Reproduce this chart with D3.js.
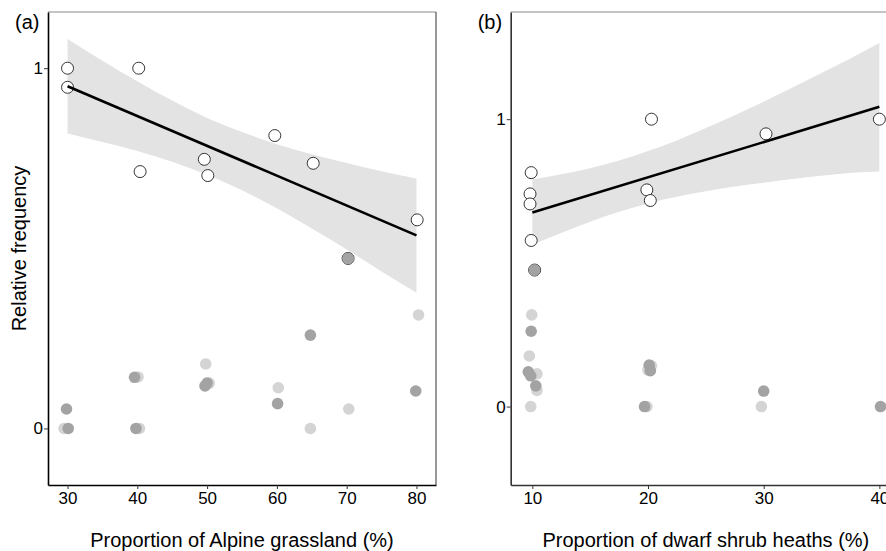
<!DOCTYPE html>
<html lang="en">
<head>
  <meta charset="UTF-8">
  <title>Relative frequency</title>
  <style>
    body { margin: 0; background: #fff; }
    svg { display: block; font-family: "Liberation Sans", Arial, sans-serif; }
  </style>
</head>
<body>
  <script src="https://d3js.org/d3.v7.min.js"></script>
  <script>
    // panel (a): Alpine grassland
    const aTicksX = [30, 40, 50, 60, 70, 80];
    const aOpenX = [30, 30, 40.2, 40.4, 49.6, 50.1, 59.7, 65.2, 70.2, 80.1];
    const aOpenY = [1.0, 0.947, 1.0, 0.713, 0.747, 0.702, 0.813, 0.736, 0.472, 0.579];
    const aLightX = [29.5, 40.1, 40.3, 49.8, 50.3, 60.2, 64.8, 70.3, 80.3];
    const aLightY = [0, 0.143, 0, 0.179, 0.126, 0.113, 0, 0.054, 0.315];
    const aDarkX = [29.85, 30.1, 39.6, 39.8, 49.7, 50.0, 60.1, 64.8, 70.2, 79.9];
    const aDarkY = [0.054, 0, 0.142, 0, 0.118, 0.126, 0.069, 0.259, 0.472, 0.104];
    const aFitX = [30, 80];
    const aFitY = [0.950, 0.536];
    const aBandX = [30, 35, 40, 45, 50, 55, 60, 65, 70, 75, 80];
    const aBandHi = [1.081, 1.021, 0.964, 0.910, 0.862, 0.823, 0.789, 0.761, 0.737, 0.714, 0.694];
    const aBandLo = [0.819, 0.795, 0.770, 0.740, 0.704, 0.661, 0.611, 0.555, 0.497, 0.436, 0.377];

    // panel (b): dwarf shrub heaths
    const bTicksX = [10, 20, 30, 40];
    const bOpenX = [9.9, 9.8, 9.8, 9.9, 10.2, 20.3, 19.9, 20.2, 30.2, 40.0];
    const bOpenY = [0.814, 0.740, 0.705, 0.578, 0.475, 1.0, 0.754, 0.717, 0.949, 1.0];
    const bLightX = [9.95, 9.74, 10.4, 10.4, 9.86, 20.3, 20.0, 19.9, 29.8];
    const bLightY = [0.319, 0.176, 0.114, 0.056, 0, 0.142, 0.127, 0, 0];
    const bDarkX = [10.2, 9.9, 9.65, 9.86, 10.3, 20.1, 20.2, 19.7, 30.0, 40.1];
    const bDarkY = [0.475, 0.262, 0.121, 0.107, 0.072, 0.144, 0.125, 0, 0.054, 0];
    const bFitX = [10, 40];
    const bFitY = [0.675, 1.043];
    const bBandX = [10, 12.5, 15, 17.5, 20, 22.5, 25, 27.5, 30, 32.5, 35, 37.5, 40];
    const bBandHi = [0.790, 0.808, 0.829, 0.856, 0.889, 0.926, 0.969, 1.014, 1.061, 1.110, 1.161, 1.211, 1.265];
    const bBandLo = [0.563, 0.604, 0.643, 0.678, 0.707, 0.730, 0.749, 0.766, 0.779, 0.792, 0.803, 0.813, 0.818];

    const yTicks = [0, 1];
    const [width, height] = [886, 551];
    const plotTop = 12, plotBottom = 485;

    const svg = d3.select('body').append('svg')
      .attr('width', width).attr('height', height);

    function panel(opt) {
      const x = d3.scaleLinear().domain(opt.xDomain).range([opt.left, opt.right]);
      const y = d3.scaleLinear().domain(opt.yDomain).range([plotBottom, plotTop]);
      const g = svg.append('g');

      // box (top / right in grey)
      g.append('line').attr('x1', opt.left).attr('x2', opt.right)
        .attr('y1', plotTop).attr('y2', plotTop).attr('stroke', '#8a8a8a').attr('stroke-width', 1.2);
      g.append('line').attr('x1', opt.right).attr('x2', opt.right)
        .attr('y1', plotTop).attr('y2', plotBottom).attr('stroke', '#555').attr('stroke-width', 1.2);

      // confidence band
      const band = opt.bandX.map((v, i) => ({ x: v, lo: opt.bandLo[i], hi: opt.bandHi[i] }));
      g.append('path').datum(band)
        .attr('fill', '#e3e3e3')
        .attr('d', d3.area().curve(d3.curveMonotoneX)
          .x(d => x(d.x)).y0(d => y(d.lo)).y1(d => y(d.hi)));

      // open circles
      g.append('g').selectAll('circle')
        .data(opt.openX.map((v, i) => [v, opt.openY[i]]))
        .join('circle')
        .attr('cx', d => x(d[0])).attr('cy', d => y(d[1])).attr('r', 6)
        .attr('fill', '#fff').attr('stroke', '#333').attr('stroke-width', 1);

      // grey dots
      g.append('g').selectAll('circle')
        .data(opt.lightX.map((v, i) => [v, opt.lightY[i]]))
        .join('circle')
        .attr('cx', d => x(d[0])).attr('cy', d => y(d[1])).attr('r', 5.8)
        .attr('fill', '#d4d4d4');
      g.append('g').selectAll('circle')
        .data(opt.darkX.map((v, i) => [v, opt.darkY[i]]))
        .join('circle')
        .attr('cx', d => x(d[0])).attr('cy', d => y(d[1])).attr('r', 5.8)
        .attr('fill', '#a3a3a3');

      // fitted line
      g.append('path').datum(opt.fitX.map((v, i) => [v, opt.fitY[i]]))
        .attr('fill', 'none').attr('stroke', '#000').attr('stroke-width', 2.6)
        .attr('d', d3.line().x(d => x(d[0])).y(d => y(d[1])));

      // axes
      const xAxis = g.append('g')
        .attr('transform', `translate(0, ${plotBottom})`)
        .call(d3.axisBottom(x).tickValues(opt.ticksX).tickFormat(d3.format('d'))
          .tickSize(4).tickSizeOuter(0).tickPadding(3));
      const yAxis = g.append('g')
        .attr('transform', `translate(${opt.left}, 0)`)
        .call(d3.axisLeft(y).tickValues(yTicks).tickFormat(d3.format('d'))
          .tickSize(4).tickSizeOuter(0).tickPadding(1));
      [xAxis, yAxis].forEach(a => {
        a.select('.domain').attr('stroke', opt.axisColor).attr('stroke-width', 1.6);
        a.selectAll('.tick line').attr('stroke', '#333');
        a.selectAll('.tick text').attr('fill', '#000').style('font-size', '17px')
          .style('font-family', '"Liberation Sans", Arial, sans-serif');
      });

      // titles
      g.append('text').attr('x', (opt.left + opt.right) / 2).attr('y', 547)
        .attr('text-anchor', 'middle').style('font-size', '20px').text(opt.xTitle);
      g.append('text').attr('x', opt.left - 33).attr('y', 29)
        .style('font-size', '20px').text(opt.tag);
      return g;
    }

    panel({
      left: 48, right: 436,
      xDomain: [27.2, 82.8], yDomain: [-0.157, 1.156],
      ticksX: aTicksX,
      openX: aOpenX, openY: aOpenY,
      lightX: aLightX, lightY: aLightY,
      darkX: aDarkX, darkY: aDarkY,
      fitX: aFitX, fitY: aFitY,
      bandX: aBandX, bandLo: aBandLo, bandHi: aBandHi,
      axisColor: '#000',
      xTitle: 'Proportion of Alpine grassland (%)', tag: '(a)'
    });

    panel({
      left: 510.7, right: 901,
      xDomain: [8.13, 41.87], yDomain: [-0.273, 1.373],
      ticksX: bTicksX,
      openX: bOpenX, openY: bOpenY,
      lightX: bLightX, lightY: bLightY,
      darkX: bDarkX, darkY: bDarkY,
      fitX: bFitX, fitY: bFitY,
      bandX: bBandX, bandLo: bBandLo, bandHi: bBandHi,
      axisColor: '#333',
      xTitle: 'Proportion of dwarf shrub heaths (%)', tag: '(b)'
    });

    // shared y title
    svg.append('text')
      .attr('transform', 'translate(26, 248.5) rotate(-90)')
      .attr('text-anchor', 'middle').style('font-size', '20px')
      .text('Relative frequency');
  </script>
</body>
</html>
